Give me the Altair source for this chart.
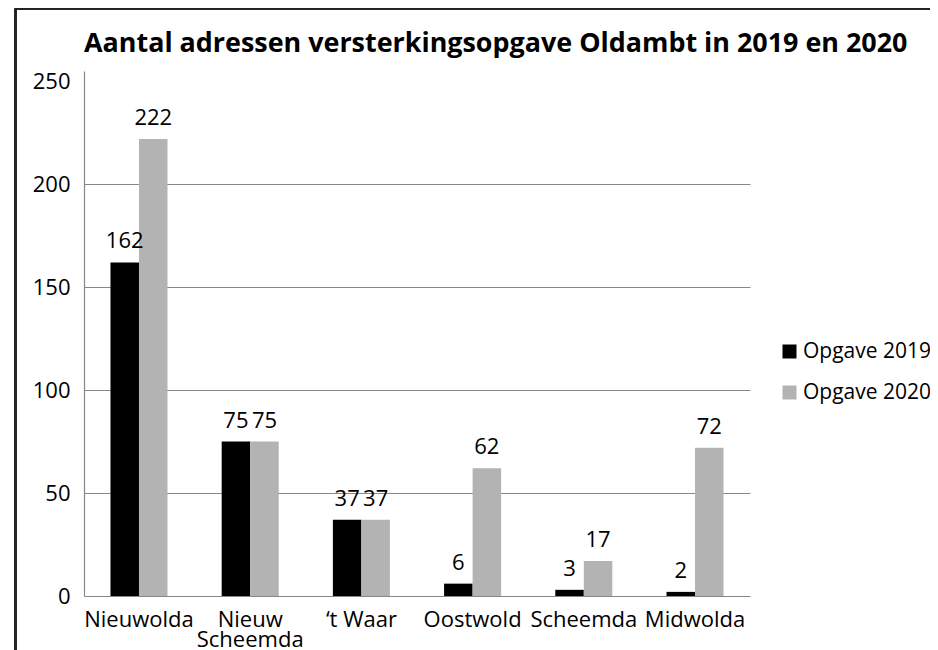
import altair as alt
import pandas as pd

categories = ["Nieuwolda", "Nieuw Scheemda", "\u2018t Waar", "Oostwold", "Scheemda", "Midwolda"]
series = ["Opgave 2019", "Opgave 2020"]
values_2019 = [162, 75, 37, 6, 3, 2]
values_2020 = [222, 75, 37, 62, 17, 72]
colors = ["#000000", "#b3b3b3"]
y_ticks = [0, 50, 100, 150, 200, 250]

rows = []
for c, a, b in zip(categories, values_2019, values_2020):
    rows.append({"gebied": c, "reeks": series[0], "aantal": a})
    rows.append({"gebied": c, "reeks": series[1], "aantal": b})
df = pd.DataFrame(rows)

FONT = "Open Sans"

x = alt.X(
    "gebied:N",
    sort=categories,
    title=None,
    scale=alt.Scale(paddingInner=0.487, paddingOuter=0.238),
    axis=alt.Axis(
        labelAngle=0,
        labelFontSize=22,
        labelFont=FONT,
        labelColor="#000000",
        labelPadding=13,
        ticks=False,
        domainColor="#888888",
        domainWidth=1.2,
        labelLineHeight=20,
        labelExpr="datum.label == 'Nieuw Scheemda' ? ['Nieuw', 'Scheemda'] : datum.label",
    ),
)
xo = alt.XOffset("reeks:N", sort=series, scale=alt.Scale(paddingInner=0, paddingOuter=0))
y = alt.Y(
    "aantal:Q",
    title=None,
    scale=alt.Scale(domain=[0, 255], nice=False),
    axis=alt.Axis(
        values=y_ticks,
        labelFontSize=22,
        labelFont=FONT,
        labelColor="#000000",
        labelPadding=14,
        ticks=False,
        domainColor="#888888",
        domainWidth=1.2,
        grid=True,
        gridColor="#888888",
        gridWidth=1.2,
        gridOpacity={"condition": {"test": "datum.value >= 250 || datum.value == 0", "value": 0}, "value": 1},
    ),
)
color = alt.Color(
    "reeks:N",
    sort=series,
    scale=alt.Scale(domain=series, range=colors),
    legend=alt.Legend(
        title=None,
        orient="none",
        legendX=695,
        legendY=270,
        symbolType="square",
        symbolSize=196,
        symbolStrokeWidth=0,
        labelFontSize=21,
        labelFont=FONT,
        labelColor="#000000",
        labelOffset=3,
        rowPadding=19,
    ),
)

bars = alt.Chart(df).mark_bar(size=28.5).encode(x=x, xOffset=xo, y=y, color=color)
labels = alt.Chart(df).mark_text(
    baseline="alphabetic", dy=-14, fontSize=22, font=FONT, color="#000000"
).encode(x=x, xOffset=xo, y=y, text="aantal:Q")

frame_top = alt.Chart(df).mark_rule(color="#222222", strokeWidth=1.5).encode(
    x=alt.value(-68.5), x2=alt.value(900), y=alt.value(-62.5)
)
frame_left = alt.Chart(df).mark_rule(color="#222222", strokeWidth=1.5).encode(
    x=alt.value(-68.5), y=alt.value(-62.5), y2=alt.value(650)
)

chart = (
    alt.layer(bars, labels, frame_top, frame_left)
    .properties(
        width=666,
        height=525,
        background="white",
        title=alt.TitleParams(
            "Aantal adressen versterkingsopgave Oldambt in 2019 en 2020",
            anchor="start",
            frame="group",
            font=FONT,
            fontSize=26.9,
            fontWeight="bold",
            color="#000000",
            offset=0,
            dy=50,
        ),
        autosize=alt.AutoSizeParams(type="none"),
        padding={"left": 76, "top": 63, "right": 180, "bottom": 56},
    )
    .configure_view(stroke="transparent", strokeWidth=0)
)

chart.save("out.html", embed_options={"renderer": "svg", "actions": False})
